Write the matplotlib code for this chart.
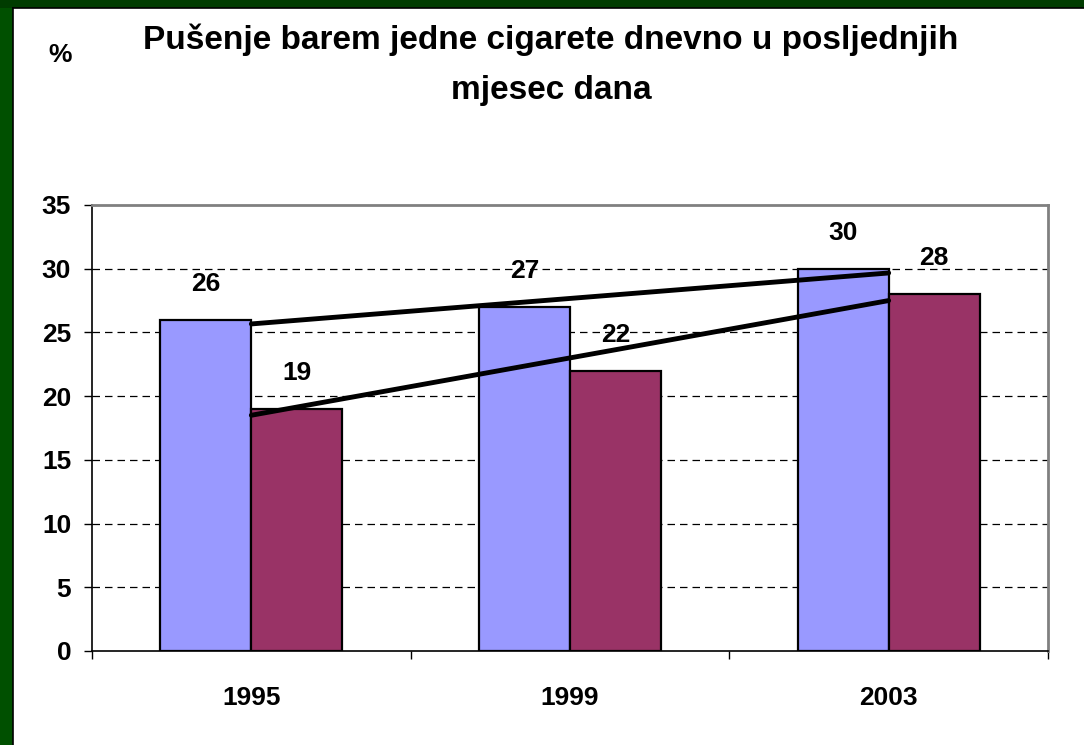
import matplotlib.pyplot as plt
from matplotlib.patches import Rectangle

# podaci
godine = ["1995", "1999", "2003"]
serija_a = [26, 27, 30]
serija_b = [19, 22, 28]
naslov = "Pušenje barem jedne cigarete dnevno u posljednjih\nmjesec dana"

plt.rcParams['font.family'] = ['Liberation Sans', 'DejaVu Sans']
plt.rcParams['font.weight'] = 'bold'

fig = plt.figure(figsize=(10.84, 7.45), dpi=100)
W, H = 1084, 745

# zeleni okvir (lijevo i gore)
fig.patches.append(Rectangle((0, 0), 13 / W, 1, transform=fig.transFigure,
                             facecolor='#005000', edgecolor='none', zorder=0))
fig.patches.append(Rectangle((0, 1 - 8 / H), 1, 8 / H, transform=fig.transFigure,
                             facecolor='#003c00', edgecolor='none', zorder=0))
fig.lines.append(plt.Line2D([13 / W, 13 / W], [0, 1 - 8 / H], transform=fig.transFigure,
                            color='black', lw=1.2))
fig.lines.append(plt.Line2D([13 / W, 1], [1 - 8 / H, 1 - 8 / H], transform=fig.transFigure,
                            color='black', lw=1.2))

ax = fig.add_axes([92 / W, 1 - 651 / H, (1048 - 92) / W, (651 - 205) / H])

x = list(range(len(godine)))
sirina = 1 / 3.5
ax.bar([i - sirina / 2 for i in x], serija_a, width=sirina, color='#9999FF',
       edgecolor='black', linewidth=1.6, zorder=3)
ax.bar([i + sirina / 2 for i in x], serija_b, width=sirina, color='#993366',
       edgecolor='black', linewidth=1.6, zorder=3)

# linearni trend
for serija in (serija_a, serija_b):
    n = len(serija)
    mx = sum(x) / n
    my = sum(serija) / n
    k = sum((xi - mx) * (yi - my) for xi, yi in zip(x, serija)) / sum((xi - mx) ** 2 for xi in x)
    ax.plot([x[0], x[-1]], [my + k * (x[0] - mx), my + k * (x[-1] - mx)],
            color='black', lw=3.5, solid_capstyle='round', zorder=4)

# oznake vrijednosti
for i in x:
    ax.annotate(str(serija_a[i]), (i - sirina / 2, serija_a[i]), xytext=(0, 26),
                textcoords='offset points', ha='center', va='center', fontsize=19,
                fontweight='bold')
    ax.annotate(str(serija_b[i]), (i + sirina / 2, serija_b[i]), xytext=(0, 26),
                textcoords='offset points', ha='center', va='center', fontsize=19,
                fontweight='bold')

ax.set_xlim(-0.5, 2.5)
ax.set_ylim(0, 35)
ax.set_yticks(range(0, 36, 5))
ax.set_xticks(x)
ax.set_xticklabels(godine)
ax.set_xticks([-0.5, 0.5, 1.5, 2.5], minor=True)
ax.tick_params(axis='x', which='major', length=0, pad=25, labelsize=19)
ax.tick_params(axis='x', which='minor', length=6, width=1, direction='out')
ax.tick_params(axis='y', length=6, width=1, direction='out', pad=9, labelsize=19)

for y in range(5, 35, 5):
    ax.axhline(y, color='black', lw=0.9, ls=(0, (6, 4)), zorder=1)

ax.spines['left'].set_color('black')
ax.spines['bottom'].set_color('black')
ax.spines['left'].set_linewidth(1.2)
ax.spines['bottom'].set_linewidth(1.2)
ax.spines['top'].set_color('#808080')
ax.spines['right'].set_color('#808080')
ax.spines['top'].set_linewidth(2)
ax.spines['right'].set_linewidth(2)

fig.text(551 / W, 1 - 65 / H, naslov, ha='center', va='center', fontsize=24,
         fontweight='bold', linespacing=1.8)
fig.text(60 / W, 1 - 55 / H, "%", ha='center', va='center', fontsize=19,
         fontweight='bold')

fig.savefig('out.png', dpi=100)
